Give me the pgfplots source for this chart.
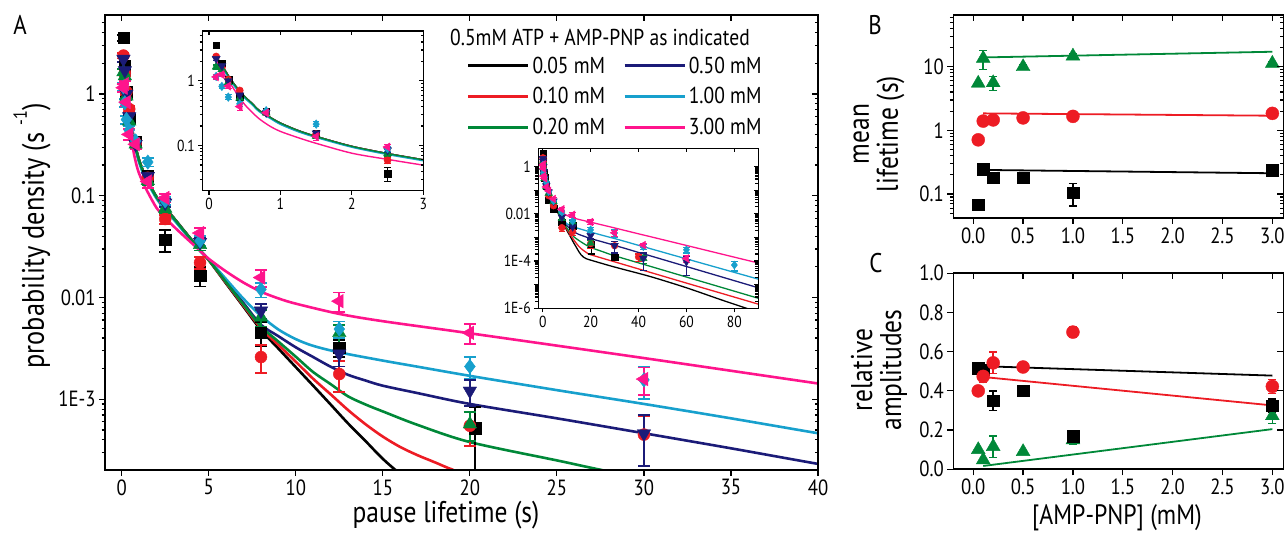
\documentclass[border=0pt]{standalone}
\usepackage{fontspec}
\setmainfont{PT Sans}[FakeStretch=0.85]
\usepackage{pgfplots}
\usepackage{pgfplotstable}
\pgfplotsset{compat=1.18}

\definecolor{cred}{RGB}{237,28,36}
\definecolor{cgreen}{RGB}{0,136,56}
\definecolor{cnavy}{RGB}{27,27,120}
\definecolor{ccyan}{RGB}{23,160,205}
\definecolor{cpink}{RGB}{255,20,140}

\newcommand\fz[1]{\fontsize{#1}{#1}\selectfont}

% ---------- fitted curves ----------
\pgfplotstableread{
x y
0.1 2.4
0.15 1.95
0.2 1.6
0.25 1.31
0.3 1.07
0.4 0.76
0.5 0.57
0.6 0.45
0.7 0.35
0.85 0.275
1.0 0.222
1.25 0.17
1.5 0.138
2.0 0.097
2.5 0.075
3.0 0.060
3.5 0.047
4.0 0.037
4.5 0.029
5.0 0.0233
6.0 0.0137
7.0 0.0081
8.0 0.0048
9.0 0.00315
10.0 0.00207
11.0 0.00136
12.0 0.00089
13.0 0.00058
14.0 0.00039
15.0 0.00026
16.0 0.000186
17.0 0.000148
18.0 0.000129
20.0 0.000110
30.0 0.000056
45.0 0.000022
60.0 0.0000074
75.0 0.0000022
90.0 0.00000068
}\tcblack
\pgfplotstableread{
x y
0.1 2.4
0.15 1.95
0.2 1.6
0.25 1.31
0.3 1.07
0.4 0.76
0.5 0.57
0.6 0.45
0.7 0.35
0.85 0.275
1.0 0.222
1.25 0.17
1.5 0.138
2.0 0.097
2.5 0.075
3.0 0.060
3.5 0.047
4.0 0.037
4.5 0.029
5.0 0.0233
6.0 0.0139
7.0 0.0083
8.0 0.0050
9.0 0.00342
10.0 0.00234
11.0 0.00159
12.0 0.00112
13.0 0.000785
14.0 0.00057
15.0 0.00043
16.0 0.00034
17.0 0.000282
18.0 0.00024
19.0 0.000204
20.0 0.000186
30.0 0.000093
45.0 0.000033
60.0 0.0000117
75.0 0.0000042
90.0 0.0000015
}\tcred
\pgfplotstableread{
x y
0.1 2.4
0.15 1.95
0.2 1.6
0.25 1.31
0.3 1.07
0.4 0.76
0.5 0.57
0.6 0.45
0.7 0.35
0.85 0.275
1.0 0.222
1.25 0.17
1.5 0.138
2.0 0.097
2.5 0.075
3.0 0.060
3.5 0.047
4.0 0.037
4.5 0.029
5.0 0.0234
6.0 0.0141
7.0 0.0085
8.0 0.0052
9.0 0.00369
10.0 0.00262
11.0 0.00185
12.0 0.00141
13.0 0.00107
14.0 0.00089
15.0 0.00076
17.0 0.00056
20.0 0.00038
25.0 0.000251
30.0 0.000168
45.0 0.0000596
60.0 0.0000211
75.0 0.0000075
90.0 0.00000266
}\tcgreen
\pgfplotstableread{
x y
0.1 2.4
0.15 1.95
0.2 1.6
0.25 1.31
0.3 1.07
0.4 0.76
0.5 0.57
0.6 0.45
0.7 0.35
0.85 0.275
1.0 0.222
1.25 0.17
1.5 0.138
2.0 0.097
2.5 0.075
3.0 0.060
3.5 0.047
4.0 0.037
4.5 0.029
5.0 0.0235
6.0 0.0143
7.0 0.0088
8.0 0.0054
9.0 0.00417
10.0 0.00324
11.0 0.0026
12.0 0.00209
13.0 0.00174
14.0 0.00153
15.0 0.00136
17.0 0.00115
20.0 0.00090
25.0 0.00065
30.0 0.000464
35.0 0.00033
40.0 0.000232
45.0 0.000166
60.0 0.0000589
75.0 0.0000209
90.0 0.0000074
}\tcnavy
\pgfplotstableread{
x y
0.1 2.3
0.15 1.85
0.2 1.5
0.25 1.23
0.3 1.0
0.4 0.71
0.5 0.54
0.6 0.43
0.7 0.335
0.85 0.265
1.0 0.212
1.25 0.163
1.5 0.133
2.0 0.094
2.5 0.0725
3.0 0.058
3.5 0.0458
4.0 0.0362
4.5 0.0287
5.0 0.0236
6.0 0.0151
7.0 0.0097
8.0 0.0066
9.0 0.00485
10.0 0.0039
11.0 0.00335
12.5 0.00289
15.0 0.0024
17.0 0.00209
20.0 0.0017
25.0 0.00123
30.0 0.0009
35.0 0.00065
40.0 0.000464
45.0 0.000335
60.0 0.000124
75.0 0.0000462
90.0 0.0000172
}\tccyan
\pgfplotstableread{
x y
0.1 2.1
0.15 1.65
0.2 1.33
0.25 1.10
0.3 0.90
0.4 0.61
0.5 0.43
0.6 0.33
0.7 0.26
0.85 0.20
1.0 0.165
1.25 0.132
1.5 0.108
2.0 0.076
2.5 0.061
3.0 0.0497
3.5 0.0413
4.0 0.0345
4.5 0.0288
5.0 0.0240
6.0 0.0180
7.0 0.0140
8.0 0.0114
9.0 0.0098
10.0 0.0087
12.5 0.0069
15.0 0.00585
20.0 0.00445
30.0 0.00254
40.0 0.00143
45.0 0.00108
60.0 0.00046
75.0 0.000195
90.0 0.000083
}\tcpink

% ---------- measured pause-lifetime densities ----------
\pgfplotstableread{
x y e
0.1 3.55 0.25
0.18 1.88 0.15
0.27 1.04 0.09
0.43 0.57 0.05
0.8 0.34 0.03
1.5 0.155 0.015
2.5 0.037 0.009
4.5 0.0163 0.0035
8 0.0045 0.0012
12.5 0.0032 0.0006
20.3 0.00052 0.00032
30 0.00015 0.00004
}\tdblack
\pgfplotstableread{
x y e
0.1 2.38 0.15
0.18 1.6 0.1
0.27 1.05 0.08
0.43 0.71 0.05
0.8 0.33 0.03
1.5 0.15 0.012
2.5 0.059 0.006
4.5 0.022 0.003
8 0.0026 0.0008
12.5 0.00177 0.0006
20 0.00055 0.0002
30 0.00045 0.00023
40 0.00015 0.00005
}\tdred
\pgfplotstableread{
x y e
0.1 1.64 0.12
0.18 1.5 0.1
0.27 0.95 0.08
0.43 0.54 0.05
0.8 0.32 0.03
1.5 0.14 0.012
2.5 0.075 0.007
4.5 0.033 0.004
8 0.0064 0.0012
12.5 0.0045 0.0009
20 0.00057 0.00018
42 0.00013 0.00005
}\tdgreen
\pgfplotstableread{
x y e
0.1 2.2 0.15
0.18 1.7 0.12
0.27 1.0 0.08
0.43 0.6 0.05
0.8 0.32 0.03
1.5 0.155 0.015
2.5 0.085 0.008
4.5 0.035 0.004
8 0.0074 0.0013
12.5 0.0028 0.0007
20 0.00121 0.00035
30 0.00046 0.00024
42 0.00013 0.00009
60 0.000094 0.00007
}\tdnavy
\pgfplotstableread{
x y e
0.1 1.17 0.1
0.18 0.82 0.07
0.27 0.56 0.05
0.43 0.44 0.04
0.8 0.345 0.03
1.5 0.214 0.02
2.5 0.089 0.008
4.5 0.036 0.004
8 0.012 0.002
12.5 0.0049 0.0009
20 0.0021 0.0005
30 0.00155 0.00055
42 0.00041 0.0001
60 0.0003 0.00008
80 0.000068 0.00003
}\tdcyan
\pgfplotstableread{
x y e
0.1 1.15 0.1
0.18 1.25 0.1
0.27 0.83 0.07
0.43 0.40 0.05
0.8 0.32 0.03
1.5 0.138 0.02
2.5 0.095 0.009
4.5 0.043 0.005
8 0.0157 0.003
12.5 0.0092 0.002
20 0.0045 0.001
30 0.00158 0.00047
42 0.00048 0.0001
60 0.00013 0.00004
}\tdpink

% ---------- panel B / C ----------
\pgfplotstableread{
x y e
0.05 5.5 0
0.1 13.5 4.5
0.2 5.6 1.4
0.5 10 0.8
1.0 14.7 1.5
3.0 11.3 0.8
}\tbslow
\pgfplotstableread{
x y e
0.05 0.71 0
0.1 1.40 0
0.2 1.46 0
0.5 1.57 0
1.0 1.66 0
3.0 1.85 0
}\tbmid
\pgfplotstableread{
x y e
0.05 0.068 0
0.1 0.245 0
0.2 0.18 0.02
0.5 0.18 0
1.0 0.105 0.04
3.0 0.235 0.02
}\tbfast
\pgfplotstableread{
x y e
0.05 0.40 0
0.1 0.474 0.03
0.2 0.543 0.055
0.5 0.522 0
1.0 0.70 0.025
3.0 0.423 0.035
}\tcmid
\pgfplotstableread{
x y e
0.05 0.517 0
0.1 0.509 0
0.2 0.35 0.05
0.5 0.40 0.02
1.0 0.17 0.02
3.0 0.324 0.035
}\tcfast
\pgfplotstableread{
x y e
0.05 0.10 0
0.1 0.048 0
0.2 0.116 0.055
0.5 0.09 0
1.0 0.15 0.02
3.0 0.273 0.04
}\tcslow

\pgfplotsset{
  baseframe/.style={scale only axis, anchor=south west,
    axis line style={line width=1.6pt},
    every tick/.style={black, line width=1.2pt},
    /pgf/number format/assume math mode=true},
  lowerticks/.style={xtick pos=left, ytick pos=left, tick align=outside},
  upperticks/.style={xtick pos=right, ytick pos=right, tick align=inside,
    xticklabels={}, yticklabels={}, axis background/.style={fill=none}},
  sblack/.style={black, only marks, mark=square*, mark options={fill=black}, forget plot},
  sred/.style={cred, only marks, mark=*, mark options={fill=cred}, forget plot},
  sgreen/.style={cgreen, only marks, mark=triangle*, mark options={fill=cgreen}, forget plot},
  snavy/.style={cnavy, only marks, mark=triangle*, mark options={fill=cnavy, rotate=180}, forget plot},
  scyan/.style={ccyan, only marks, mark=diamond*, mark options={fill=ccyan}, forget plot},
  spink/.style={cpink, only marks, mark=triangle*, mark options={fill=cpink, rotate=90}, forget plot},
  optA/.style={baseframe, at={(105pt,66pt)}, width=713pt, height=455pt,
    xmin=-0.96, xmax=40, ymin=2.02e-4, ymax=5.96,
    xtick={0,5,...,40}, ytick={1e-3,1e-2,1e-1,1}, yticklabels={1E-3,0.01,0.1,1},
    minor ytick={3e-4,4e-4,5e-4,6e-4,7e-4,8e-4,9e-4,2e-3,3e-3,4e-3,5e-3,6e-3,7e-3,8e-3,9e-3,
      0.02,0.03,0.04,0.05,0.06,0.07,0.08,0.09,0.2,0.3,0.4,0.5,0.6,0.7,0.8,0.9,2,3,4,5},
    major tick length=6pt, minor tick length=3.5pt,
    tick label style={font=\fz{22}}},
  optI/.style={baseframe, at={(202.3pt,345.3pt)}, width=221pt, height=159.7pt,
    axis background/.style={fill=white}, axis line style={line width=1.3pt},
    xmin=-0.094, xmax=3, ymin=0.02, ymax=5.9,
    xtick={0,1,2,3}, ytick={0.1,1}, yticklabels={0.1,1},
    minor ytick={0.03,0.04,0.05,0.06,0.07,0.08,0.09,0.2,0.3,0.4,0.5,0.6,0.7,0.8,0.9,2,3,4,5},
    major tick length=4pt, minor tick length=2.5pt,
    tick label style={font=\fz{16}}},
  optJ/.style={baseframe, at={(538.3pt,227.7pt)}, width=220pt, height=160pt,
    axis background/.style={fill=white}, axis line style={line width=1.3pt},
    xmin=-1.84, xmax=90, ymin=1e-6, ymax=6,
    xtick={0,20,...,80}, ytick={1e-6,1e-5,1e-4,1e-3,1e-2,1e-1,1},
    yticklabels={1E-6,,1E-4,,0.01,,1},
    major tick length=4pt,
    tick label style={font=\fz{16}}},
  optB/.style={baseframe, at={(953.3pt,318pt)}, width=330pt, height=203pt,
    xmin=-0.2, xmax=3.11, ymin=0.042, ymax=65,
    xtick={0,0.5,...,3},
    xticklabel style={/pgf/number format/fixed, /pgf/number format/fixed zerofill,
      /pgf/number format/precision=1},
    ytick={0.1,1,10}, yticklabels={0.1,1,10},
    minor ytick={0.05,0.06,0.07,0.08,0.09,0.2,0.3,0.4,0.5,0.6,0.7,0.8,0.9,
      2,3,4,5,6,7,8,9,20,30,40,50,60},
    major tick length=6pt, minor tick length=3.5pt,
    tick label style={font=\fz{22}}},
  optC/.style={baseframe, at={(953.3pt,66.7pt)}, width=330pt, height=196pt,
    xmin=-0.2, xmax=3.11, ymin=0, ymax=1.0,
    xtick={0,0.5,...,3}, ytick={0,0.2,...,1.0},
    xticklabel style={/pgf/number format/fixed, /pgf/number format/fixed zerofill,
      /pgf/number format/precision=1},
    yticklabel style={/pgf/number format/fixed, /pgf/number format/fixed zerofill,
      /pgf/number format/precision=1},
    major tick length=6pt,
    tick label style={font=\fz{22}}},
}

% all six data sets; #1 mark size (pt), #2 bar width, #3 cap half-length
\newcommand\drawdata[3]{%
  \addplot[sblack, mark size=0.95*#1pt, error bars/y dir=both, error bars/y explicit,
    error bars/error bar style={line width=#2},
    error bars/error mark options={rotate=90, line width=#2, mark size=#3}]
    table[x=x,y=y,y error=e]{\tdblack};
  \addplot[sred, mark size=#1pt, error bars/y dir=both, error bars/y explicit,
    error bars/error bar style={line width=#2},
    error bars/error mark options={rotate=90, line width=#2, mark size=#3}]
    table[x=x,y=y,y error=e]{\tdred};
  \addplot[sgreen, mark size=1.3*#1pt, error bars/y dir=both, error bars/y explicit,
    error bars/error bar style={line width=#2},
    error bars/error mark options={rotate=90, line width=#2, mark size=#3}]
    table[x=x,y=y,y error=e]{\tdgreen};
  \addplot[snavy, mark size=1.3*#1pt, error bars/y dir=both, error bars/y explicit,
    error bars/error bar style={line width=#2},
    error bars/error mark options={rotate=90, line width=#2, mark size=#3}]
    table[x=x,y=y,y error=e]{\tdnavy};
  \addplot[scyan, mark size=1.2*#1pt, error bars/y dir=both, error bars/y explicit,
    error bars/error bar style={line width=#2},
    error bars/error mark options={rotate=90, line width=#2, mark size=#3}]
    table[x=x,y=y,y error=e]{\tdcyan};
  \addplot[spink, mark size=1.3*#1pt, error bars/y dir=both, error bars/y explicit,
    error bars/error bar style={line width=#2},
    error bars/error mark options={rotate=90, line width=#2, mark size=#3}]
    table[x=x,y=y,y error=e]{\tdpink};
}
\newcommand\drawcurves[1]{%
  \addplot[black, line width=#1, smooth, no marks] table[x=x,y=y]{\tcblack};
  \addplot[cnavy, line width=#1, smooth, no marks] table[x=x,y=y]{\tcnavy};
  \addplot[cred, line width=#1, smooth, no marks] table[x=x,y=y]{\tcred};
  \addplot[ccyan, line width=#1, smooth, no marks] table[x=x,y=y]{\tccyan};
  \addplot[cgreen, line width=#1, smooth, no marks] table[x=x,y=y]{\tcgreen};
  \addplot[cpink, line width=#1, smooth, no marks] table[x=x,y=y]{\tcpink};
}
\newcommand\bcplot[4]{% style, mark size, table, cap half-length
  \addplot[#1, mark size=#2, error bars/y dir=both, error bars/y explicit,
    error bars/error bar style={line width=1.5pt},
    error bars/error mark options={rotate=90, line width=1.5pt, mark size=#4}]
    table[x=x,y=y,y error=e]{#3};
}

\begin{document}
\begin{tikzpicture}
\path[use as bounding box] (0pt,0pt) rectangle (1286pt,536pt);

% ---------------- panel A ----------------
\begin{axis}[optA, ymode=log, lowerticks,
  legend columns=2, legend cell align=left,
  legend image code/.code={\draw[#1] (0pt,0pt) -- (60pt,0pt);},
  legend style={at={(0.5073,0.9088)}, anchor=north west, draw=none, fill=none,
    inner sep=0pt, row sep=13pt, font=\fz{23}, nodes={inner sep=0pt},
    /tikz/every even column/.append style={column sep=18pt},
    /tikz/every odd column/.append style={column sep=3pt}}]
  \drawcurves{2.6pt}
  \legend{0.05 mM,0.50 mM,0.10 mM,1.00 mM,0.20 mM,3.00 mM}
  \drawdata{6}{1.8pt}{6pt}
\end{axis}
\begin{axis}[optA, ymode=log, upperticks]
  \addplot[draw=none, forget plot] coordinates {(1,1)};
\end{axis}

% inset, short times
\begin{axis}[optI, ymode=log, lowerticks]
  \drawcurves{1.4pt}
  \drawdata{3.6}{1.1pt}{3.2pt}
\end{axis}
\begin{axis}[optI, ymode=log, upperticks]
  \addplot[draw=none, forget plot] coordinates {(1,1)};
\end{axis}

% inset, full range
\begin{axis}[optJ, ymode=log, lowerticks]
  \drawcurves{1.3pt}
  \drawdata{3.4}{1.1pt}{3.2pt}
\end{axis}
\begin{axis}[optJ, ymode=log, upperticks]
  \addplot[draw=none, forget plot] coordinates {(1,1)};
\end{axis}

% ---------------- panel B ----------------
\begin{axis}[optB, ymode=log, lowerticks]
  \addplot[cgreen, line width=1.8pt] coordinates {(0.1,14.0) (3.0,17.2)};
  \addplot[cred, line width=1.8pt] coordinates {(0.1,1.85) (3.0,1.70)};
  \addplot[black, line width=1.8pt] coordinates {(0.1,0.239) (3.0,0.212)};
  \bcplot{sgreen}{8pt}{\tbslow}{4pt}
  \bcplot{sred}{6.5pt}{\tbmid}{4pt}
  \bcplot{sblack}{5.8pt}{\tbfast}{4pt}
\end{axis}
\begin{axis}[optB, ymode=log, upperticks]
  \addplot[draw=none, forget plot] coordinates {(1,1)};
\end{axis}

% ---------------- panel C ----------------
\begin{axis}[optC, lowerticks]
  \addplot[black, line width=1.8pt] coordinates {(0.1,0.526) (3.0,0.478)};
  \addplot[cred, line width=1.8pt] coordinates {(0.1,0.471) (3.0,0.326)};
  \addplot[cgreen, line width=1.8pt] coordinates {(0.1,0.017) (3.0,0.205)};
  \bcplot{sgreen}{8pt}{\tcslow}{4pt}
  \bcplot{sblack}{5.8pt}{\tcfast}{4pt}
  \bcplot{sred}{6.5pt}{\tcmid}{4pt}
\end{axis}
\begin{axis}[optC, upperticks]
  \addplot[draw=none, forget plot] coordinates {(1,0.5)};
\end{axis}

% ---------------- text ----------------
\node[font=\fz{27}] at (20pt,511pt) {A};
\node[font=\fz{27}] at (875pt,511pt) {B};
\node[font=\fz{27}] at (876pt,273pt) {C};
\node[font=\fz{23}] at (600pt,499pt) {0.5mM ATP + AMP-PNP as indicated};
\node[font=\fz{30}] at (446pt,21pt) {pause lifetime (s)};
\node[font=\fz{31}, rotate=90] at (32pt,300pt) {probability density (s \raisebox{0.55em}{\fz{19}-1})};
\node[font=\fontsize{30}{29}\selectfont, rotate=90, align=center] at (879pt,402pt) {mean\\lifetime (s)};
\node[font=\fontsize{30}{29}\selectfont, rotate=90, align=center] at (879pt,166pt) {relative\\amplitudes};
\node[font=\fz{28}] at (1117pt,18pt) {[AMP-PNP] (mM)};
\end{tikzpicture}
\end{document}
